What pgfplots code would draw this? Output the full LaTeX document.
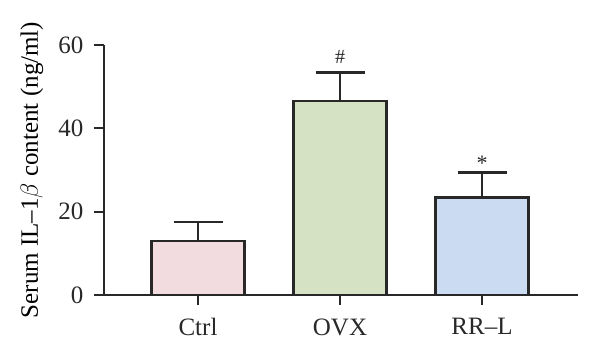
\documentclass[border=0pt]{standalone}
\usepackage{pgfplots}
\pgfplotsset{compat=1.18}
\usepackage{fontspec}
\setmainfont{Liberation Serif}
\definecolor{barpink}{RGB}{242,220,224}
\definecolor{bargreen}{RGB}{213,226,195}
\definecolor{barblue}{RGB}{203,219,241}
\definecolor{edge}{RGB}{40,40,40}
\begin{document}
\fontsize{25}{29}\selectfont
\begin{tikzpicture}
\begin{axis}[
  at={(0,0)}, anchor=south west,
  scale only axis, width=474pt, height=250pt,
  xmin=-0.662, xmax=2.676, ymin=0, ymax=60,
  axis x line*=bottom, axis y line*=left,
  xtick={0,1,2}, xticklabels={Ctrl,OVX,RR--L},
  ytick={0,20,40,60},
  tick align=outside, major tick length=10pt,
  tick style={line width=2.2pt, edge},
  axis line style={line width=2.2pt, edge},
  ylabel={Serum IL--1$\beta$ content (ng/ml)},
  ylabel style={at={(axis description cs:-0.152,0.5)}, anchor=center},
  /pgf/number format/assume math mode=true,
  every tick label/.append style={font=\fontsize{25}{29}\selectfont, text=edge},
  xticklabel style={yshift=-5pt},
  yticklabel style={xshift=-2pt},
  clip=false,
]
\addplot[ybar, bar width=93pt, bar shift=0pt, fill=barpink, draw=edge, line width=2.2pt,
  error bars/.cd, y dir=plus, y explicit,
  error bar style={line width=2.2pt, edge},
  error mark options={rotate=90, mark size=24.5pt, line width=2.2pt, edge}]
  coordinates {(0,13.0) +- (0,4.6)};
\addplot[ybar, bar width=93pt, bar shift=0pt, fill=bargreen, draw=edge, line width=2.2pt,
  error bars/.cd, y dir=plus, y explicit,
  error bar style={line width=2.2pt, edge},
  error mark options={rotate=90, mark size=24.5pt, line width=2.2pt, edge}]
  coordinates {(1,46.6) +- (0,6.8)};
\addplot[ybar, bar width=93pt, bar shift=0pt, fill=barblue, draw=edge, line width=2.2pt,
  error bars/.cd, y dir=plus, y explicit,
  error bar style={line width=2.2pt, edge},
  error mark options={rotate=90, mark size=24.5pt, line width=2.2pt, edge}]
  coordinates {(2,23.4) +- (0,6.0)};
\node[font=\fontsize{20}{22}\selectfont, text=edge] at (axis cs:1,57.2) {\#};
\node[font=\fontsize{22}{22}\selectfont, text=edge] at (axis cs:2,31.6) {*};
\end{axis}
\path (-104pt,-67pt) rectangle ++(600pt,362pt);
\end{tikzpicture}
\end{document}
